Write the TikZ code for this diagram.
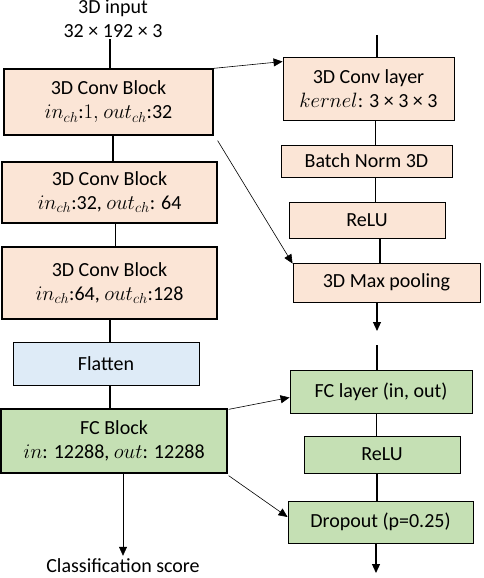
\documentclass[tikz,border=0pt]{standalone}
\usepackage{fontspec}
\setmainfont{Carlito}
\usetikzlibrary{arrows.meta,calc}
\definecolor{peach}{HTML}{FBE5D6}
\definecolor{lblue}{HTML}{DEEBF7}
\definecolor{lgreen}{HTML}{C5E0B4}
\newcommand{\bigtxt}{\fontsize{20}{24}\selectfont}
\tikzset{
  blk/.style={draw=black, line width=1.3pt, inner sep=0pt, align=center, font=\bigtxt},
  lay/.style={draw=black, line width=0.9pt, inner sep=0pt, align=center, font=\bigtxt},
  thick line/.style={line width=1.3pt},
  thin line/.style={line width=0.6pt},
  arr/.style={line width=0.6pt, -{Triangle[length=9pt,width=8pt]}},
}
\begin{document}
\begin{tikzpicture}[x=1pt,y=-1pt]
\useasboundingbox (0,0) rectangle (484,578);
% left column
\node[font=\bigtxt, align=center, inner sep=1pt] (inp) at (113,19) {3D input\\32 × 192 × 3};
\node[blk, fill=peach, minimum width=209pt, minimum height=66pt] (c1) at (108.5,102) {3D Conv Block\\$in_{ch}$:$1,$ $out_{ch}$:32};
\node[blk, fill=peach, minimum width=215pt, minimum height=61pt] (c2) at (109.5,192.5) {3D Conv Block\\$in_{ch}$:32, $out_{ch}$: 64};
\node[blk, fill=peach, minimum width=215pt, minimum height=72pt] (c3) at (109.5,283) {3D Conv Block\\$in_{ch}$:64, $out_{ch}$:128};
\node[lay, fill=lblue, minimum width=186pt, minimum height=43pt] (fl) at (106,363.5) {Flatten};
\node[blk, fill=lgreen, minimum width=226pt, minimum height=64pt] (fc) at (114,441) {FC Block\\$in$: 12288, $out$: 12288};
\node[font=\bigtxt, inner sep=1pt] (cls) at (123,566) {Classification score};
% right column top
\coordinate (rt) at (377,35);
\node[lay, fill=peach, minimum width=171pt, minimum height=63pt] (cl) at (368.5,88.5) {3D Conv layer\\$kernel$: 3 × 3 × 3};
\node[lay, fill=peach, minimum width=171pt, minimum height=32pt] (bn) at (366.5,161) {Batch Norm 3D};
\node[lay, fill=peach, minimum width=156pt, minimum height=36pt] (r1) at (367,220) {ReLU};
\node[lay, fill=peach, minimum width=187pt, minimum height=39pt] (mp) at (386.5,282.5) {3D Max pooling};
\coordinate (mpend) at (377,331);
% right column bottom
\coordinate (rb) at (377,345);
\node[lay, fill=lgreen, minimum width=182pt, minimum height=43pt] (fcl) at (381,391.5) {FC layer (in, out)};
\node[lay, fill=lgreen, minimum width=156pt, minimum height=37pt] (r2) at (382,454.5) {ReLU};
\node[lay, fill=lgreen, minimum width=185pt, minimum height=42pt] (dr) at (380.5,522) {Dropout (p=0.25)};
\coordinate (drend) at (376,573);
% connectors left
\draw[thick line] (inp.south -| 110,0) -- (c1.north -| 110,0);
\draw[thick line] (c1.south -| 113,0) -- (c2.north -| 113,0);
\draw[thin line] (c2.south -| 115,0) -- (c3.north -| 115,0);
\draw[thick line] (c3.south -| 110,0) -- (fl.north -| 110,0);
\draw[thick line] (fl.south -| 110,0) -- (fc.north -| 110,0);
\draw[arr] (fc.south -| 123,0) -- ($(cls.north -| 123,0)+(0,-2)$);
% connectors right
\draw[thick line] (rt) -- (rt |- cl.north);
\draw[thin line] (cl.south -| 375,0) -- (bn.north -| 375,0);
\draw[thin line] (bn.south -| 375,0) -- (r1.north -| 375,0);
\draw[thick line] (r1.south -| 380,0) -- (mp.north -| 380,0);
\draw[arr, line width=1.1pt] (mp.south -| mpend) -- (mpend);
\draw[thick line] (rb) -- (rb |- fcl.north);
\draw[thin line] (fcl.south -| 376,0) -- (r2.north -| 376,0);
\draw[thick line] (r2.south -| 377,0) -- (dr.north -| 377,0);
\draw[arr, line width=1.1pt] (dr.south -| drend) -- (drend);
% cross arrows
\draw[arr] (c1.north east) -- ($(cl.north west)+(0,5)$);
\draw[arr] ($(c1.south east)+(4,5)$) -- ($(mp.north west)+(0,1)$);
\draw[arr] ($(fc.north east)+(1,1)$) -- ($(fcl.west)+(0,6)$);
\draw[arr] ($(fc.south east)+(1,2)$) -- ($(dr.west)+(0,-5)$);
\end{tikzpicture}
\end{document}
